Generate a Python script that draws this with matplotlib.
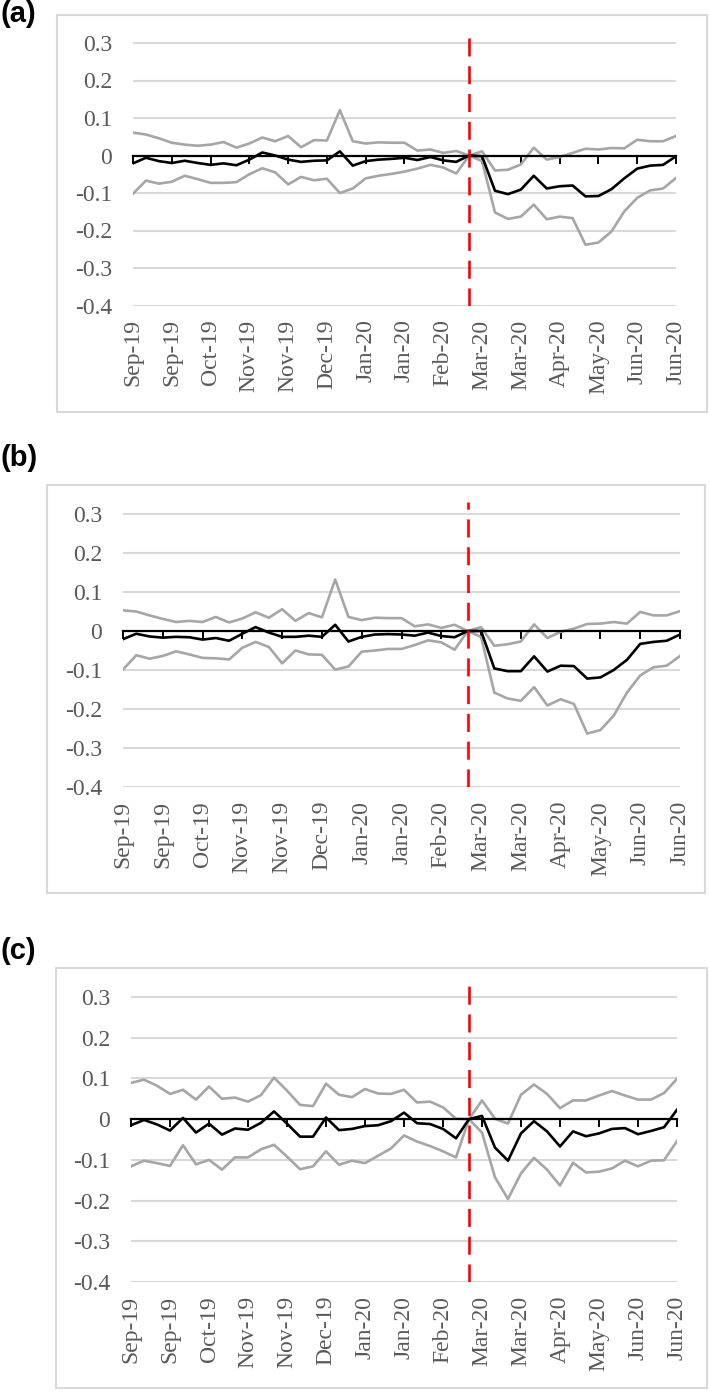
import matplotlib
matplotlib.use('Agg')
import matplotlib.pyplot as plt
import numpy as np

# weekly category labels (every third week gets a label on the axis)
tick_labels = ['Sep-19', 'Sep-19', 'Oct-19', 'Nov-19', 'Nov-19', 'Dec-19', 'Jan-20', 'Jan-20',
               'Feb-20', 'Mar-20', 'Mar-20', 'Apr-20', 'May-20', 'Jun-20', 'Jun-20']
label_step = 3
n_weeks = 43
event_week = 26

ytick_vals = [-0.4, -0.3, -0.2, -0.1, 0.0, 0.1, 0.2, 0.3]
ytick_labels = ['-0.4', '-0.3', '-0.2', '-0.1', '0', '0.1', '0.2', '0.3']

# panel (a)
a_upper = [0.061, 0.056, 0.046, 0.034, 0.029, 0.026, 0.029, 0.036, 0.021, 0.032, 0.048, 0.038, 0.052, 0.022,
           0.041, 0.040, 0.121, 0.038, 0.032, 0.035, 0.034, 0.034, 0.013, 0.016, 0.007, 0.012, 0.0, 0.011,
           -0.040, -0.038, -0.024, 0.021, -0.011, -0.004, 0.007, 0.018, 0.016, 0.020, 0.019, 0.042, 0.038,
           0.038, 0.052]
a_mid = [-0.021, -0.006, -0.015, -0.020, -0.014, -0.020, -0.025, -0.021, -0.026, -0.011, 0.008, 0.0, -0.011,
         -0.017, -0.014, -0.013, 0.011, -0.027, -0.015, -0.011, -0.009, -0.006, -0.012, -0.004, -0.013, -0.017,
         0.0, -0.002, -0.094, -0.103, -0.091, -0.054, -0.088, -0.082, -0.080, -0.109, -0.108, -0.090, -0.061,
         -0.035, -0.027, -0.025, -0.002]
a_lower = [-0.102, -0.067, -0.075, -0.070, -0.054, -0.063, -0.073, -0.073, -0.071, -0.050, -0.034, -0.045,
           -0.077, -0.057, -0.066, -0.062, -0.100, -0.088, -0.061, -0.054, -0.049, -0.043, -0.035, -0.025,
           -0.032, -0.048, 0.0, -0.015, -0.152, -0.169, -0.163, -0.131, -0.170, -0.163, -0.167, -0.238, -0.232,
           -0.203, -0.149, -0.113, -0.093, -0.088, -0.060]

# panel (b)
b_upper = [0.053, 0.050, 0.040, 0.031, 0.023, 0.026, 0.023, 0.036, 0.022, 0.032, 0.048, 0.034, 0.056, 0.026,
           0.046, 0.035, 0.132, 0.036, 0.028, 0.034, 0.033, 0.033, 0.012, 0.017, 0.008, 0.016, 0.0, 0.010,
           -0.038, -0.034, -0.027, 0.017, -0.018, -0.002, 0.006, 0.018, 0.019, 0.023, 0.019, 0.049, 0.040,
           0.040, 0.051]
b_mid = [-0.021, -0.007, -0.014, -0.017, -0.015, -0.016, -0.022, -0.018, -0.025, -0.007, 0.010, -0.004, -0.015,
         -0.015, -0.012, -0.015, 0.016, -0.027, -0.015, -0.009, -0.008, -0.009, -0.012, -0.004, -0.013, -0.016,
         0.0, 0.0, -0.096, -0.103, -0.103, -0.065, -0.104, -0.089, -0.090, -0.122, -0.119, -0.100, -0.074,
         -0.033, -0.028, -0.025, -0.009]
b_lower = [-0.099, -0.062, -0.071, -0.064, -0.052, -0.060, -0.069, -0.070, -0.073, -0.043, -0.028, -0.041,
           -0.083, -0.050, -0.060, -0.061, -0.099, -0.091, -0.053, -0.050, -0.046, -0.046, -0.036, -0.024,
           -0.029, -0.048, 0.0, -0.015, -0.158, -0.173, -0.179, -0.144, -0.191, -0.175, -0.187, -0.263, -0.254,
           -0.217, -0.158, -0.114, -0.093, -0.089, -0.064]

# panel (c)
c_upper = [0.089, 0.097, 0.082, 0.062, 0.072, 0.048, 0.080, 0.050, 0.053, 0.043, 0.059, 0.102, 0.070, 0.035,
           0.032, 0.087, 0.060, 0.054, 0.074, 0.063, 0.062, 0.072, 0.041, 0.043, 0.029, 0.001, 0.0, 0.046,
           0.001, -0.011, 0.060, 0.085, 0.062, 0.027, 0.046, 0.046, 0.058, 0.069, 0.058, 0.048, 0.048, 0.064,
           0.099]
c_mid = [-0.015, -0.002, -0.013, -0.028, 0.003, -0.033, -0.011, -0.038, -0.023, -0.026, -0.009, 0.019, -0.011,
         -0.043, -0.043, 0.004, -0.027, -0.024, -0.017, -0.015, -0.005, 0.016, -0.010, -0.012, -0.024, -0.047,
         0.0, 0.008, -0.070, -0.102, -0.035, -0.005, -0.030, -0.067, -0.030, -0.042, -0.035, -0.024, -0.022,
         -0.037, -0.029, -0.020, 0.023]
c_lower = [-0.116, -0.102, -0.108, -0.115, -0.064, -0.111, -0.100, -0.124, -0.094, -0.094, -0.074, -0.063,
           -0.092, -0.123, -0.116, -0.079, -0.112, -0.102, -0.108, -0.090, -0.072, -0.040, -0.055, -0.066,
           -0.079, -0.094, 0.0, -0.033, -0.143, -0.196, -0.133, -0.095, -0.124, -0.163, -0.107, -0.131, -0.129,
           -0.121, -0.102, -0.116, -0.102, -0.101, -0.054]

W, H = 709, 1392
GRAY = '#A6A6A6'
GRID = '#D9D9D9'
TXT = '#595959'

plt.rcParams['font.family'] = 'serif'
plt.rcParams['font.serif'] = ['Liberation Serif', 'DejaVu Serif']
plt.rcParams['font.sans-serif'] = ['Liberation Sans', 'DejaVu Sans']
plt.rcParams['lines.scale_dashes'] = False

fig = plt.figure(figsize=(W / 100, H / 100), dpi=100)


def panel(tag, tag_y, box, x0, x1, y03, y04, upper, mid, lower):
    # box = (left, top, right, bottom) in pixels
    bl, bt, br, bb = box
    fig.add_artist(plt.Rectangle((bl / W, 1 - bb / H), (br - bl) / W, (bb - bt) / H,
                                 transform=fig.transFigure, fill=False, ec=GRID, lw=1.5))
    fig.text(0.0, 1 - tag_y / H, tag, fontsize=21, fontweight='bold',
             family='sans-serif', va='top', ha='left')

    ytop = 0.33
    scale = (y04 - y03) / 0.7
    top_px = y03 - (ytop - 0.3) * scale
    ax = fig.add_axes([x0 / W, 1 - y04 / H, (x1 - x0) / W, (y04 - top_px) / H])
    x = np.arange(n_weeks)
    ax.plot(x, upper, color=GRAY, lw=1.9, zorder=3)
    ax.plot(x, lower, color=GRAY, lw=1.9, zorder=3)
    ax.plot(x, mid, color='black', lw=1.9, zorder=4)
    ax.axvline(event_week, color='red', lw=1.9, dashes=(13, 7), zorder=5)

    ax.set_xlim(0, n_weeks - 1)
    ax.set_ylim(-0.4, ytop)
    ax.set_yticks(ytick_vals, ytick_labels)
    ax.tick_params(axis='y', length=0, pad=15, labelsize=17, labelcolor=TXT)
    ax.yaxis.grid(True, color=GRID, lw=1.5)
    ax.set_axisbelow(True)

    for s in ['top', 'right', 'left']:
        ax.spines[s].set_visible(False)
    ax.spines['bottom'].set_position(('data', 0))
    ax.spines['bottom'].set_color('black')
    ax.spines['bottom'].set_linewidth(1.6)
    ax.spines['bottom'].set_zorder(3.5)
    ticks = np.arange(0, n_weeks, label_step)
    ax.set_xticks(ticks)
    ax.tick_params(axis='x', direction='out', length=6, width=1.4, color='black', labelbottom=False)

    sec = ax.secondary_xaxis(0.0)
    sec.set_xticks(ticks, tick_labels)
    sec.tick_params(length=0, pad=10, labelsize=17, labelcolor=TXT, rotation=90)
    sec.spines['bottom'].set_visible(False)
    return ax


panel('(a)', 0, (57, 15, 707, 412), 133, 676, 43, 305.5, a_upper, a_mid, a_lower)
panel('(b)', 444, (47, 485, 705, 893), 123, 680, 514, 787, b_upper, b_mid, b_lower)
panel('(c)', 937, (56, 968, 707, 1388), 131, 677, 997, 1282, c_upper, c_mid, c_lower)

fig.savefig('out.png', dpi=100)
